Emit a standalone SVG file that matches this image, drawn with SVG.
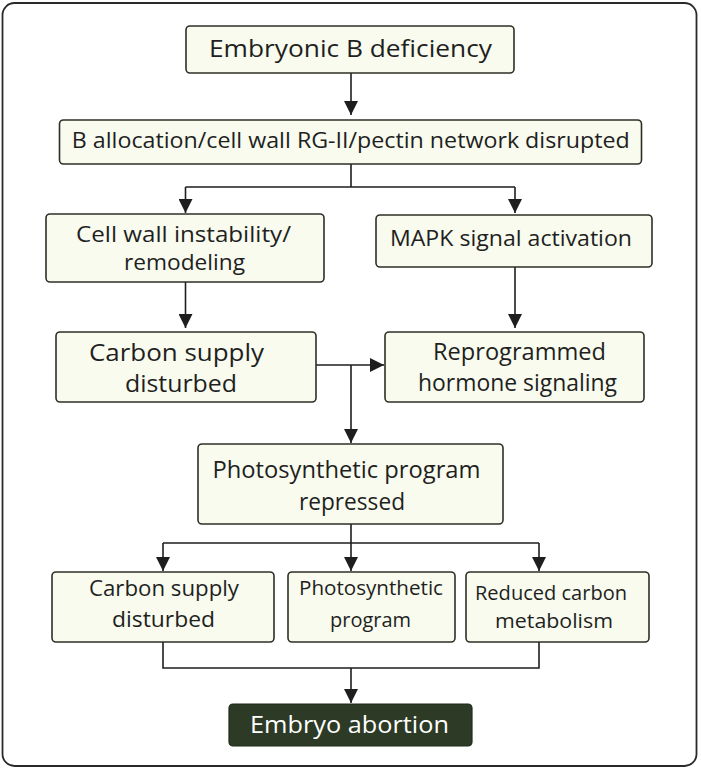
<svg xmlns="http://www.w3.org/2000/svg" width="701" height="770" viewBox="0 0 701 770">
<defs>
<marker id="ahb" viewBox="0 0 14 14" refX="14" refY="7" markerWidth="14" markerHeight="14" markerUnits="userSpaceOnUse" orient="auto">
<path d="M0,0 L14,7 L0,14 Z" fill="#1e1e1e"/>
</marker>
</defs>
<style>
.box{fill:#f8fbee;stroke:#2b3026;stroke-width:1.6}
.dark{fill:#2c3a26;stroke:#1e2a1a;stroke-width:1.2}
text{font-family:"Open Sans","Noto Sans","Liberation Sans",sans-serif;fill:#1f1f1f;text-anchor:middle}
.w{fill:#ffffff}
.ln{fill:none;stroke:#1e1e1e;stroke-width:1.6}
</style>
<rect x="2.5" y="3" width="694" height="763" rx="12" fill="#ffffff" stroke="#2a2a2a" stroke-width="1.8"/>
<g id="connectors">
<path class="ln" d="M351,73 V115" marker-end="url(#ahb)"/>
<path class="ln" d="M351,164 V187 M185.5,187 H515"/>
<path class="ln" d="M185.5,187 V213" marker-end="url(#ahb)"/>
<path class="ln" d="M515,187 V213" marker-end="url(#ahb)"/>
<path class="ln" d="M185.5,282 V328" marker-end="url(#ahb)"/>
<path class="ln" d="M515,267 V328" marker-end="url(#ahb)"/>
<path class="ln" d="M316,365 H384" marker-end="url(#ahb)"/>
<path class="ln" d="M351,365 V443" marker-end="url(#ahb)"/>
<path class="ln" d="M351,524 V543 M163,543 H539"/>
<path class="ln" d="M163,543 V571" marker-end="url(#ahb)"/>
<path class="ln" d="M351,543 V571" marker-end="url(#ahb)"/>
<path class="ln" d="M539,543 V571" marker-end="url(#ahb)"/>
<path class="ln" d="M163,642 V668 H539 V642"/>
<path class="ln" d="M351,668 V703" marker-end="url(#ahb)"/>
</g>
<g id="n1">
<rect class="box" x="186" y="26" width="328" height="47" rx="4"/>
<text x="350.5" y="57" font-size="24" textLength="283" lengthAdjust="spacingAndGlyphs">Embryonic B deficiency</text>
</g>
<g id="n2">
<rect class="box" x="59.5" y="120" width="582" height="44" rx="4"/>
<text x="350.75" y="148" font-size="22" textLength="558" lengthAdjust="spacingAndGlyphs">B allocation/cell wall RG-II/pectin network disrupted</text>
</g>
<g id="n3">
<rect class="box" x="46" y="214" width="278" height="68" rx="4"/>
<text x="183.5" y="242" font-size="22" textLength="215" lengthAdjust="spacingAndGlyphs">Cell wall instability/</text>
<text x="184.5" y="270" font-size="22" textLength="121" lengthAdjust="spacingAndGlyphs">remodeling</text>
</g>
<g id="n4">
<rect class="box" x="376" y="215" width="276" height="52" rx="4"/>
<text x="511" y="246" font-size="22" textLength="242" lengthAdjust="spacingAndGlyphs">MAPK signal activation</text>
</g>
<g id="n5">
<rect class="box" x="56" y="332" width="260" height="70" rx="4"/>
<text x="176.5" y="361" font-size="23" textLength="175" lengthAdjust="spacingAndGlyphs">Carbon supply</text>
<text x="181" y="392" font-size="23" textLength="112" lengthAdjust="spacingAndGlyphs">disturbed</text>
</g>
<g id="n6">
<rect class="box" x="385" y="332" width="259" height="70" rx="4"/>
<text x="519.5" y="360" font-size="23" textLength="173" lengthAdjust="spacingAndGlyphs">Reprogrammed</text>
<text x="517.5" y="391" font-size="23" textLength="199" lengthAdjust="spacingAndGlyphs">hormone signaling</text>
</g>
<g id="n7">
<rect class="box" x="198" y="444" width="305" height="80" rx="4"/>
<text x="346.5" y="478" font-size="23" textLength="268" lengthAdjust="spacingAndGlyphs">Photosynthetic program</text>
<text x="352" y="510" font-size="23" textLength="106" lengthAdjust="spacingAndGlyphs">repressed</text>
</g>
<g id="n8">
<rect class="box" x="52" y="572" width="222" height="70" rx="4"/>
<text x="164" y="596" font-size="21" textLength="150" lengthAdjust="spacingAndGlyphs">Carbon supply</text>
<text x="163.5" y="627" font-size="21" textLength="103" lengthAdjust="spacingAndGlyphs">disturbed</text>
</g>
<g id="n9">
<rect class="box" x="288" y="572" width="167" height="70" rx="4"/>
<text x="371" y="595" font-size="20" textLength="144" lengthAdjust="spacingAndGlyphs">Photosynthetic</text>
<text x="370.5" y="627" font-size="20" textLength="81" lengthAdjust="spacingAndGlyphs">program</text>
</g>
<g id="n10">
<rect class="box" x="466" y="572" width="183" height="70" rx="4"/>
<text x="551" y="600" font-size="20" textLength="152" lengthAdjust="spacingAndGlyphs">Reduced carbon</text>
<text x="554" y="628" font-size="20" textLength="118" lengthAdjust="spacingAndGlyphs">metabolism</text>
</g>
<g id="n11">
<rect class="dark" x="229" y="704" width="243" height="42" rx="4"/>
<text class="w" x="349.5" y="733" font-size="24" textLength="199" lengthAdjust="spacingAndGlyphs">Embryo abortion</text>
</g>
</svg>
